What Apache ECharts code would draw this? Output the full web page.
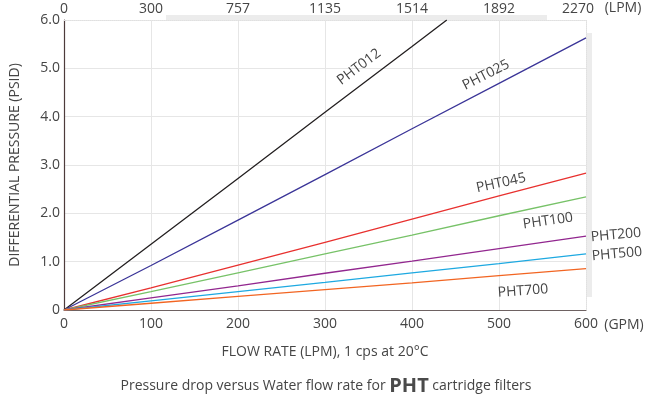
<!DOCTYPE html>
<html><head><meta charset="utf-8">
<script src="https://cdn.jsdelivr.net/npm/echarts@6/dist/echarts.min.js"></script>
<style>html,body{margin:0;padding:0;background:#fff}#c{width:646px;height:397px}</style>
</head><body><div id="c"></div>
<script>
// ---- data ----
const flowGPM = [0, 100, 200, 300, 400, 500, 600];
const topLabels = ['0', '300', '757', '1135', '1514', '1892', '2270'];
const pht012Flow = [0, 100, 200, 300, 400, 440];
const pht012 = [0, 1.36, 2.72, 4.09, 5.45, 6.0];
const pht025 = [0, 0.92, 1.86, 2.80, 3.75, 4.69, 5.63];
const pht045 = [0, 0.46, 0.93, 1.40, 1.88, 2.36, 2.83];
const pht100 = [0, 0.38, 0.77, 1.16, 1.55, 1.95, 2.34];
const pht200 = [0, 0.25, 0.50, 0.76, 1.01, 1.27, 1.53];
const pht500 = [0, 0.19, 0.38, 0.57, 0.77, 0.96, 1.16];
const pht700 = [0, 0.14, 0.28, 0.42, 0.56, 0.71, 0.855];
const seriesNames = ['PHT012', 'PHT025', 'PHT045', 'PHT100', 'PHT200', 'PHT500', 'PHT700'];

const FONT = 'Open Sans';
const FS = 14;
const TXT = '#454545';
const pair = (xs, ys) => xs.map((x, i) => [x, ys[i]]);
const colors = ['#231f20', '#3b3598', '#e8312f', '#77c268', '#92278f', '#1ea9e1', '#f26522'];
const seriesData = [
  pair(pht012Flow, pht012), pair(flowGPM, pht025), pair(flowGPM, pht045),
  pair(flowGPM, pht100), pair(flowGPM, pht200), pair(flowGPM, pht500), pair(flowGPM, pht700)
];

const chart = echarts.init(document.getElementById('c'), null, {renderer: 'canvas'});
const txt = (text, x, y, deg) => ({
  type: 'text', x: x, y: y, rotation: (deg || 0) * Math.PI / 180, z: 10,
  style: {text: text, fill: TXT, font: FS + 'px "' + FONT + '"', align: 'center', verticalAlign: 'middle'}
});
chart.setOption({
  animation: false,
  textStyle: {fontFamily: FONT},
  grid: {left: 64, right: 60, top: 20, bottom: 87, show: false},
  xAxis: [{
    type: 'value', min: 0, max: 600, interval: 100, position: 'bottom',
    axisLine: {show: true, onZero: false, lineStyle: {color: '#6e6262', width: 1.2}},
    axisTick: {show: false},
    axisLabel: {color: TXT, fontSize: FS, fontFamily: FONT, margin: 7},
    splitLine: {show: true, lineStyle: {color: '#e6e6e6', width: 1}}
  }, {
    type: 'value', min: 0, max: 600, interval: 100, position: 'top',
    axisLine: {show: false}, axisTick: {show: false},
    axisLabel: {color: TXT, fontSize: FS, fontFamily: FONT, margin: 4,
      formatter: (v) => {
        const i = Math.round(v / 100);
        return i === topLabels.length - 1 ? '{s|' + topLabels[i] + '}' : topLabels[i];
      },
      rich: {s: {color: TXT, fontSize: FS, fontFamily: FONT, padding: [0, 16, 0, 0]}}},
    splitLine: {show: false}
  }],
  yAxis: {
    type: 'value', min: 0, max: 6, interval: 1,
    name: 'DIFFERENTIAL PRESSURE (PSID)', nameLocation: 'middle', nameRotate: 90, nameGap: 42,
    nameTextStyle: {color: TXT, fontSize: FS, fontFamily: FONT},
    axisLine: {show: true, lineStyle: {color: '#4d3b3b', width: 1.2}},
    axisTick: {show: false},
    axisLabel: {color: TXT, fontSize: FS, fontFamily: FONT, margin: 4,
      formatter: (v) => v === 0 ? '0' : v.toFixed(1)},
    splitLine: {show: true, lineStyle: {color: '#e6e6e6', width: 1}}
  },
  series: seriesNames.map((n, i) => ({
    name: n, type: 'line', data: seriesData[i], showSymbol: false, symbol: 'none',
    lineStyle: {color: colors[i], width: 1.3}, z: 5
  })),
  graphic: [
    {type: 'rect', shape: {x: 166, y: 15, width: 381, height: 5}, style: {fill: '#ececec'}, z: 1},
    {type: 'rect', shape: {x: 587, y: 33, width: 5, height: 264}, style: {fill: '#ececec'}, z: 1},
    {type: 'line', shape: {x1: 64, y1: 20.5, x2: 586, y2: 20.5}, style: {stroke: '#e0e0e0', lineDash: [1, 1]}, z: 1},
    {type: 'line', shape: {x1: 586.5, y1: 20, x2: 586.5, y2: 310}, style: {stroke: '#e0e0e0', lineDash: [1, 1]}, z: 1},
    txt('PHT012', 359, 67, 37),
    txt('PHT025', 486, 75, 27),
    txt('PHT045', 501, 183, 12),
    txt('PHT100', 548, 221, 8),
    txt('PHT200', 616, 235, 5),
    txt('PHT500', 617, 254, 5),
    txt('PHT700', 523, 291, 4),
    txt('(GPM)', 624, 325),
    txt('(LPM)', 623, 8),
    txt('FLOW RATE (LPM), 1 cps at 20°C', 325, 352),
    {type: 'text', x: 326, y: 386, style: {
      text: '{a|Pressure drop versus Water flow rate for }{b|PHT}{a| cartridge filters}',
      align: 'center', verticalAlign: 'middle',
      rich: {
        a: {fill: TXT, fontSize: FS, fontFamily: FONT},
        b: {fill: '#4a4a4a', fontSize: 20, fontWeight: 'bold', fontFamily: FONT}
      }
    }}
  ]
});
</script></body></html>
